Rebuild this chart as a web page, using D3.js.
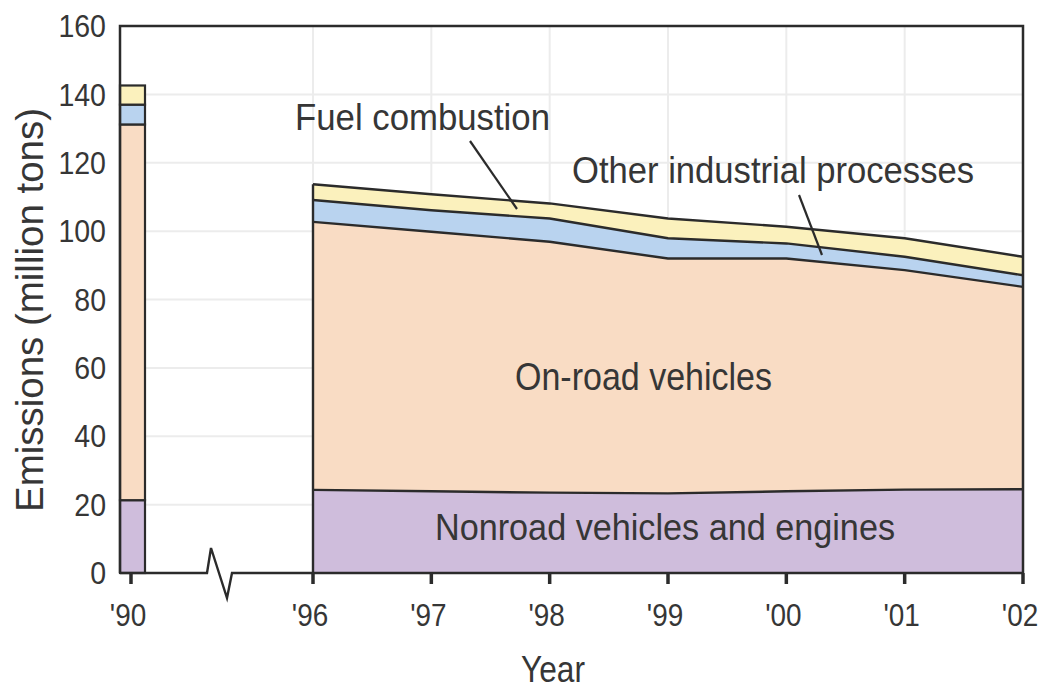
<!DOCTYPE html>
<html>
<head>
<meta charset="utf-8">
<script src="https://cdn.jsdelivr.net/npm/d3@7"></script>
<style>
  html, body { margin: 0; padding: 0; background: #fff; }
  svg text { font-family: "Liberation Sans", Arial, sans-serif; fill: #363636; }
</style>
</head>
<body>
<div id="chart"></div>
<script>
// Data (million tons)
const years = [1996, 1997, 1998, 1999, 2000, 2001, 2002];
const yearLabels = ["'96", "'97", "'98", "'99", "'00", "'01", "'02"];
const nonroad = [24.3, 23.9, 23.5, 23.3, 23.9, 24.4, 24.5];
const onroad = [78.4, 75.9, 73.4, 68.7, 68.1, 64.2, 59.2];
const industrial = [6.4, 6.3, 6.8, 5.9, 4.4, 3.9, 3.4];
const fuel = [4.6, 4.7, 4.4, 5.8, 4.9, 5.4, 5.4];

const baseYear = "'90";
const base1990 = { nonroad: 21.3, onroad: 109.9, industrial: 5.8, fuel: 5.6 };

const keys = ["nonroad", "onroad", "industrial", "fuel"];
const colors = { nonroad: "#cfbddc", onroad: "#f9dcc4", industrial: "#b9d3ef", fuel: "#fbf1bd" };
const yTicks = [0, 20, 40, 60, 80, 100, 120, 140, 160];

const width = 1043, height = 690;
const margin = { top: 26, right: 20, bottom: 117, left: 120 };
const plotRight = width - margin.right;
const plotBottom = height - margin.bottom;
const lineColor = "#2b2b2b";

const svg = d3.select("#chart").append("svg")
  .attr("width", width)
  .attr("height", height);

// squeeze text horizontally to mimic a condensed face
function condense(sel, factor) {
  sel.each(function() {
    const len = this.getComputedTextLength();
    d3.select(this)
      .attr("textLength", len * factor)
      .attr("lengthAdjust", "spacingAndGlyphs");
  });
}

const y = d3.scaleLinear().domain([0, 160]).range([plotBottom, margin.top]);
const x = d3.scaleLinear().domain([1996, 2002]).range([313, plotRight]);
const xBase = d3.scaleBand().domain([baseYear]).range([margin.left, margin.left + 25]);

// Gridlines
const grid = svg.append("g");
grid.selectAll(".hgrid")
  .data(yTicks.filter(d => d > 0 && d < 160))
  .enter().append("line")
  .attr("x1", xBase.range()[1]).attr("x2", plotRight)
  .attr("y1", d => y(d)).attr("y2", d => y(d))
  .style("stroke", "#ececec").style("stroke-width", 2);
grid.selectAll(".vgrid")
  .data(years.slice(0, -1))
  .enter().append("line")
  .attr("x1", d => x(d)).attr("x2", d => x(d))
  .attr("y1", margin.top).attr("y2", plotBottom)
  .style("stroke", "#ececec").style("stroke-width", 2);

// Stacked areas
const table = years.map((yr, i) => ({
  year: yr, nonroad: nonroad[i], onroad: onroad[i], industrial: industrial[i], fuel: fuel[i]
}));
const series = d3.stack().keys(keys)(table);

const area = d3.area()
  .x(d => x(d.data.year))
  .y0(d => y(d[0]))
  .y1(d => y(d[1]));
const topLine = d3.line()
  .x(d => x(d.data.year))
  .y(d => y(d[1]));

svg.append("g").selectAll("path")
  .data(series)
  .enter().append("path")
  .attr("d", area)
  .style("fill", d => colors[d.key])
  .style("stroke", d => colors[d.key])
  .style("stroke-width", 0.5);

svg.append("g").selectAll("path")
  .data(series)
  .enter().append("path")
  .attr("d", topLine)
  .style("fill", "none")
  .style("stroke", lineColor)
  .style("stroke-width", 2.4)
  .style("stroke-linejoin", "round");

// left edge of the area
svg.append("line")
  .attr("x1", x(1996)).attr("x2", x(1996))
  .attr("y1", y(0)).attr("y2", y(d3.sum(keys, k => table[0][k])))
  .style("stroke", lineColor).style("stroke-width", 2.4);

// 1990 bar
let acc = 0;
const barSegs = keys.map(k => { const s = { key: k, y0: acc, y1: acc + base1990[k] }; acc += base1990[k]; return s; });
svg.append("g").selectAll("rect")
  .data(barSegs)
  .enter().append("rect")
  .attr("x", xBase(baseYear))
  .attr("width", xBase.bandwidth())
  .attr("y", d => y(d.y1))
  .attr("height", d => y(d.y0) - y(d.y1))
  .style("fill", d => colors[d.key])
  .style("stroke", lineColor)
  .style("stroke-width", 2.2);

// Frame: left, top, right
svg.append("path")
  .attr("d", `M${margin.left},${plotBottom}V${margin.top}H${plotRight}V${plotBottom}`)
  .style("fill", "none").style("stroke", lineColor).style("stroke-width", 2.5);

// Bottom axis with break
const bx = 207;
svg.append("path")
  .attr("d", `M${margin.left},${plotBottom}H${bx}L${bx + 4},${plotBottom - 25}L${bx + 20},${plotBottom + 25}L${bx + 25},${plotBottom}H${plotRight}`)
  .style("fill", "none").style("stroke", lineColor).style("stroke-width", 2.4);

// x ticks
const tickData = [{ x: xBase(baseYear) + 11, label: baseYear }]
  .concat(years.map((yr, i) => ({ x: x(yr), label: yearLabels[i] })));
svg.append("g").selectAll("line")
  .data(tickData)
  .enter().append("line")
  .attr("x1", d => d.x).attr("x2", d => d.x)
  .attr("y1", plotBottom).attr("y2", plotBottom + 11)
  .style("stroke", lineColor).style("stroke-width", 3.5);
svg.append("g").selectAll("text")
  .data(tickData)
  .enter().append("text")
  .attr("x", d => d.x - 3)
  .attr("y", plotBottom + 53)
  .attr("text-anchor", "middle")
  .style("font-size", "31px")
  .text(d => d.label)
  .call(condense, 0.9);

// y tick labels
svg.append("g").selectAll("text")
  .data(yTicks)
  .enter().append("text")
  .attr("x", 106)
  .attr("y", d => y(d))
  .attr("dy", "0.36em")
  .attr("text-anchor", "end")
  .style("font-size", "31px")
  .text(d => d)
  .call(condense, 0.92);

// Axis titles
svg.append("text")
  .attr("transform", `translate(43,${310}) rotate(-90)`)
  .attr("text-anchor", "middle")
  .style("font-size", "39px")
  .attr("textLength", 404)
  .attr("lengthAdjust", "spacingAndGlyphs")
  .text("Emissions (million tons)");
svg.append("text")
  .attr("x", 553).attr("y", 682)
  .attr("text-anchor", "middle")
  .style("font-size", "36px")
  .text("Year")
  .call(condense, 0.88);

// Series labels
function label(txt, xLeft, base, w, size) {
  svg.append("text")
    .attr("x", xLeft).attr("y", base)
    .style("font-size", size + "px")
    .attr("textLength", w)
    .attr("lengthAdjust", "spacingAndGlyphs")
    .text(txt);
}
label("Fuel combustion", 295, 130, 255, 37);
label("Other industrial processes", 572, 183, 402, 37);
label("On-road vehicles", 515, 390, 257, 39);
label("Nonroad vehicles and engines", 435, 540, 460, 36);

// Leader lines
svg.append("line").attr("x1", 470).attr("y1", 141).attr("x2", 517).attr("y2", 209)
  .style("stroke", lineColor).style("stroke-width", 2.2);
svg.append("line").attr("x1", 799).attr("y1", 195).attr("x2", 822).attr("y2", 255)
  .style("stroke", lineColor).style("stroke-width", 2.2);
</script>
</body>
</html>
